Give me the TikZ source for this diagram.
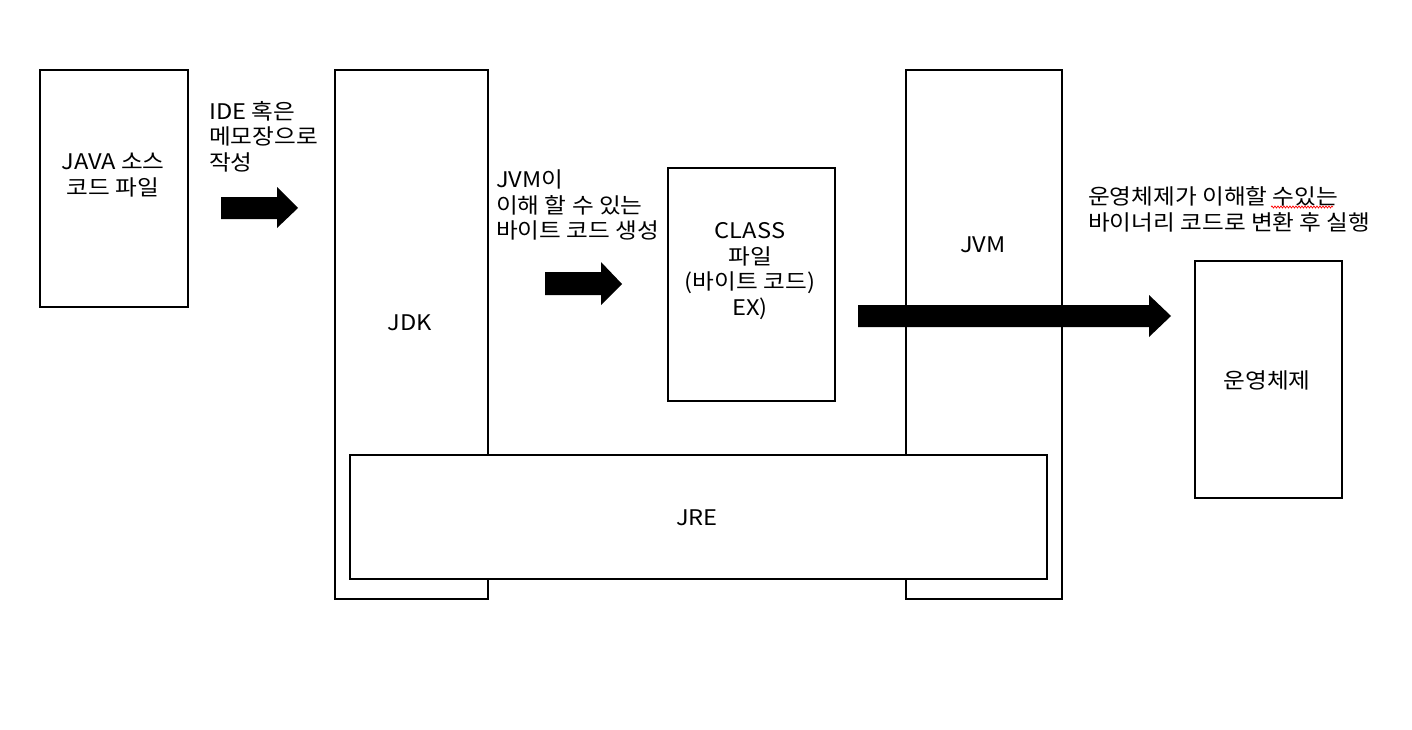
\documentclass[tikz,border=0pt]{standalone}
\usepackage{fontspec}
\setmainfont[FakeStretch=1.1]{Noto Sans CJK KR}
\usetikzlibrary{decorations.pathmorphing}
\begin{document}
\begin{tikzpicture}[x=1pt,y=-1pt,
  box/.style={draw=black,line width=2pt,fill=white,inner sep=0pt,anchor=north west},
  lbl/.style={font=\fontsize{21.5}{25.5}\selectfont,inner sep=0pt,align=center},
  note/.style={font=\fontsize{21.5}{25.5}\selectfont,inner sep=0pt,align=left,anchor=north west},
  bigarrow/.style={fill=black}]
\useasboundingbox[fill=white] (0,0) rectangle (1412,730);
% boxes
\node[box,minimum width=148pt,minimum height=237pt] (java) at (39,69) {};
\node[box,minimum width=153pt,minimum height=529pt] (jdk) at (334,69) {};
\node[box,minimum width=156pt,minimum height=529pt] (jvm) at (905,69) {};
\node[box,minimum width=697pt,minimum height=124pt] (jre) at (349,454) {};
\node[box,minimum width=167pt,minimum height=233pt] (class) at (667,167) {};
\node[box,minimum width=147pt,minimum height=237pt] (os) at (1194,260) {};
% labels
\node[lbl] (javat) at (113,175) {JAVA 소스\\코드 파일};
\node[lbl] (jdkt) at (410,323) {JDK};
\node[lbl] (jvmt) at (983,245) {JVM};
\node[lbl] (jret) at (697,518) {JRE};
\node[lbl] (ost) at (1267,380) {운영체제};
\node[lbl] (classt) at (750,271) {CLASS\\파일\\(바이트 코드)\\EX)};
\node[note] (ide) at (209,101) {IDE 혹은\\메모장으로\\작성};
\node[note] (byte) at (496,170) {JVM이\\이해 할 수 있는\\바이트 코드 생성};
\node[note,font=\fontsize{21.5}{26.5}\selectfont] (run) at (1088,186) {운영체제가 이해할 수있는\\바이너리 코드로 변환 후 실행};
% spell-check underline
\draw[red,line width=0.7pt,decorate,decoration={snake,amplitude=1pt,segment length=3pt}] (1271,207) -- (1333,207);
% arrows
\fill[bigarrow] (221,197) -- (277,197) -- (277,187) -- (298,208) -- (277,228) -- (277,219) -- (221,219) -- cycle;
\fill[bigarrow] (545,272) -- (601,272) -- (601,262) -- (622,284) -- (601,305) -- (601,295) -- (545,295) -- cycle;
\fill[bigarrow] (858,305) -- (1149,305) -- (1149,295) -- (1171,316) -- (1149,337) -- (1149,327) -- (858,327) -- cycle;
\end{tikzpicture}
\end{document}
